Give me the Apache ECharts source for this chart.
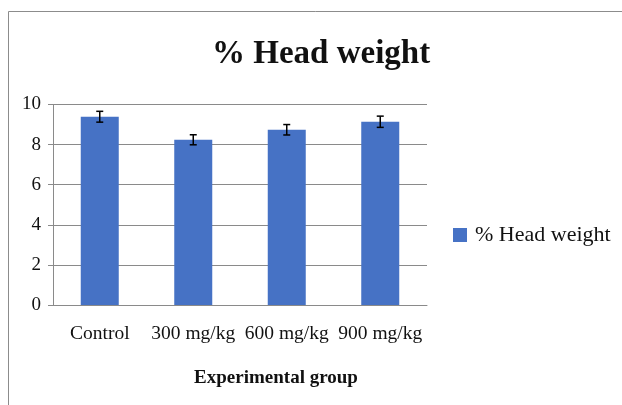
<!DOCTYPE html>
<html>
<head>
<meta charset="utf-8">
<script src="https://cdn.jsdelivr.net/npm/echarts@6/dist/echarts.min.js"></script>
<style>
  html, body { margin: 0; padding: 0; background: #fff; }
  #container { width: 622px; height: 405px; }
</style>
</head>
<body>
<div id="container"></div>
<script>
// data
var groups = ['Control', '300 mg/kg', '600 mg/kg', '900 mg/kg'];
var headWeight = [9.39, 8.24, 8.74, 9.14];
var errors = [0.27, 0.25, 0.26, 0.28];
var yTicks = [0, 2, 4, 6, 8, 10];

var myChart = echarts.init(document.getElementById('container'));

var serif = '"Liberation Serif", "DejaVu Serif", serif';
var gray = '#8a8a8a';

var errData = groups.map(function (g, i) {
  return [i, headWeight[i] - errors[i], headWeight[i] + errors[i]];
});

var options = {
  animation: false,
  backgroundColor: '#fff',
  title: {
    text: '% Head weight',
    left: 207,
    top: 33,
    textStyle: { fontFamily: serif, fontSize: 33, fontWeight: 'bold', color: '#111' }
  },
  legend: {
    data: ['% Head weight'],
    left: 448,
    top: 219,
    itemWidth: 14,
    itemHeight: 14,
    icon: 'rect',
    textStyle: { fontFamily: serif, fontSize: 22, color: '#111', padding: [0, 0, 0, 3] }
  },
  grid: { left: 53, right: 195, top: 104.5, bottom: 100 },
  xAxis: {
    type: 'category',
    data: groups,
    name: 'Experimental group',
    nameLocation: 'middle',
    nameGap: 64,
    nameTextStyle: { fontFamily: serif, fontSize: 19, fontWeight: 'bold', color: '#111', padding: [0, 0, 0, 72] },
    axisLine: { lineStyle: { color: gray, width: 1 } },
    axisTick: { length: 7, lineStyle: { color: gray } },
    axisLabel: { fontFamily: serif, fontSize: 19.5, color: '#111', margin: 19, interval: 0 }
  },
  yAxis: {
    type: 'value',
    min: yTicks[0],
    max: yTicks[yTicks.length - 1],
    interval: yTicks[1] - yTicks[0],
    axisLine: { show: true, lineStyle: { color: gray, width: 1 } },
    axisTick: { show: true, length: 5, lineStyle: { color: gray } },
    axisLabel: { fontFamily: serif, fontSize: 19, color: '#111', margin: 12 },
    splitLine: { lineStyle: { color: gray, width: 1 } }
  },
  graphic: [{
    type: 'rect',
    shape: { x: 8.5, y: 11.5, width: 800, height: 600 },
    style: { fill: null, stroke: '#8c8c8c', lineWidth: 1 },
    silent: true
  }],
  series: [{
    name: '% Head weight',
    type: 'bar',
    barWidth: 38,
    itemStyle: { color: '#4672C5' },
    data: headWeight
  }, {
    type: 'custom',
    name: 'error',
    z: 10,
    data: errData,
    renderItem: function (params, api) {
      var lo = api.coord([api.value(0), api.value(1)]);
      var hi = api.coord([api.value(0), api.value(2)]);
      var w = 3.5;
      var st = { stroke: '#000', lineWidth: 1.5 };
      return {
        type: 'group',
        children: [
          { type: 'line', shape: { x1: hi[0], y1: hi[1], x2: lo[0], y2: lo[1] }, style: st },
          { type: 'line', shape: { x1: hi[0] - w, y1: hi[1], x2: hi[0] + w, y2: hi[1] }, style: st },
          { type: 'line', shape: { x1: lo[0] - w, y1: lo[1], x2: lo[0] + w, y2: lo[1] }, style: st }
        ]
      };
    }
  }]
};

myChart.setOption(options);
</script>
</body>
</html>
